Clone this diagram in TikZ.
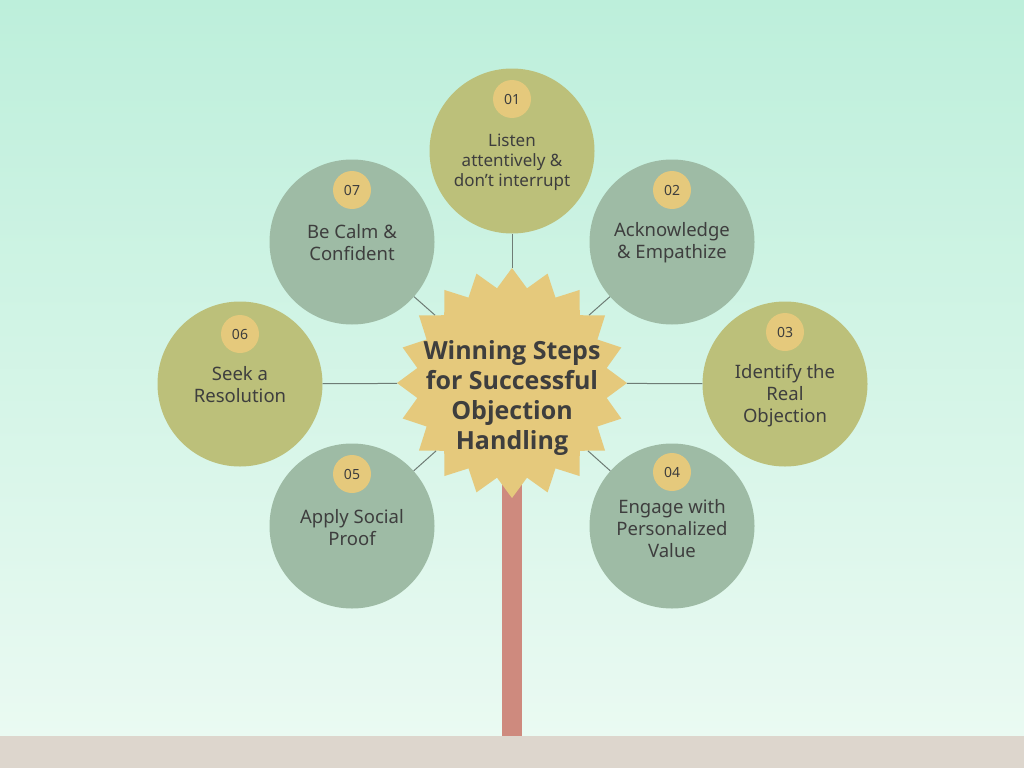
\documentclass[tikz,border=0pt]{standalone}
\usepackage{fontspec}
\setmainfont{Noto Sans}
\newfontfamily\titlefont{Open Sans}
\usetikzlibrary{shapes.geometric}
\definecolor{olivec}{HTML}{BCC07A}
\definecolor{sagec}{HTML}{9EBBA5}
\definecolor{goldc}{HTML}{E5C97C}
\definecolor{txtc}{HTML}{3E3E3E}
\definecolor{bgtop}{HTML}{BDEFDB}
\definecolor{bgbot}{HTML}{EAFAF2}
\definecolor{groundc}{HTML}{DDD6CD}
\definecolor{trunkc}{HTML}{CE8A7E}
\definecolor{linec}{HTML}{6E7C75}
\begin{document}
\begin{tikzpicture}[x=1pt,y=-1pt,
 stepcirc/.style={circle, minimum size=165pt, inner sep=0pt},
 badge/.style={circle, fill=goldc, minimum size=38pt, inner sep=0pt, font=\fontsize{14}{14}\selectfont, text=txtc},
 steptext/.style={align=center, text=txtc, font=\fontsize{18.5}{22}\selectfont},
 conn/.style={draw=linec, line width=1pt},
 hubstar/.style={star, star points=20, star point ratio=1.2, minimum size=230pt, inner sep=0pt, fill=goldc},
]
\useasboundingbox (0,0) rectangle (1024,768);
\shade[top color=bgtop, bottom color=bgbot] (0,0) rectangle (1024,736);
\fill[groundc] (0,736) rectangle (1024,768);
\fill[trunkc] (502,470) rectangle (522,736);

% circles
\node[stepcirc, fill=olivec] (s1) at (512,151) {};
\node[stepcirc, fill=sagec]  (s2) at (672,242) {};
\node[stepcirc, fill=olivec] (s3) at (785,384) {};
\node[stepcirc, fill=sagec]  (s4) at (672,526) {};
\node[stepcirc, fill=sagec]  (s5) at (352,526) {};
\node[stepcirc, fill=olivec] (s6) at (240,384) {};
\node[stepcirc, fill=sagec]  (s7) at (352,242) {};

\node[hubstar] (hub) at (512,383) {};

\foreach \i in {1,...,7} { \draw[conn] (hub) -- (s\i); }

\node[font=\titlefont\bfseries\fontsize{25}{30}\selectfont, text=txtc, align=center] (title) at (512,398) {Winning Steps\\for Successful\\Objection\\Handling};

% badges
\node[badge] (b1) at (512,99) {01};
\node[badge] (b2) at (672,190) {02};
\node[badge] (b3) at (785,332) {03};
\node[badge] (b4) at (672,472) {04};
\node[badge] (b5) at (352,474) {05};
\node[badge] (b6) at (240,334) {06};
\node[badge] (b7) at (352,190) {07};

% texts
\node[steptext, font=\fontsize{17}{20}\selectfont] (t1) at (512,162) {Listen\\attentively \&\\don\char"0027t interrupt};
\node[steptext] (t2) at (672,243) {Acknowledge\\\& Empathize};
\node[steptext] (t3) at (785,396) {Identify the\\Real\\Objection};
\node[steptext] (t4) at (672,529) {Engage with\\Personalized\\Value};
\node[steptext] (t5) at (352,528) {Apply Social\\Proof};
\node[steptext] (t6) at (240,385) {Seek a\\Resolution};
\node[steptext] (t7) at (352,243) {Be Calm \&\\Confident};
\end{tikzpicture}
\end{document}
